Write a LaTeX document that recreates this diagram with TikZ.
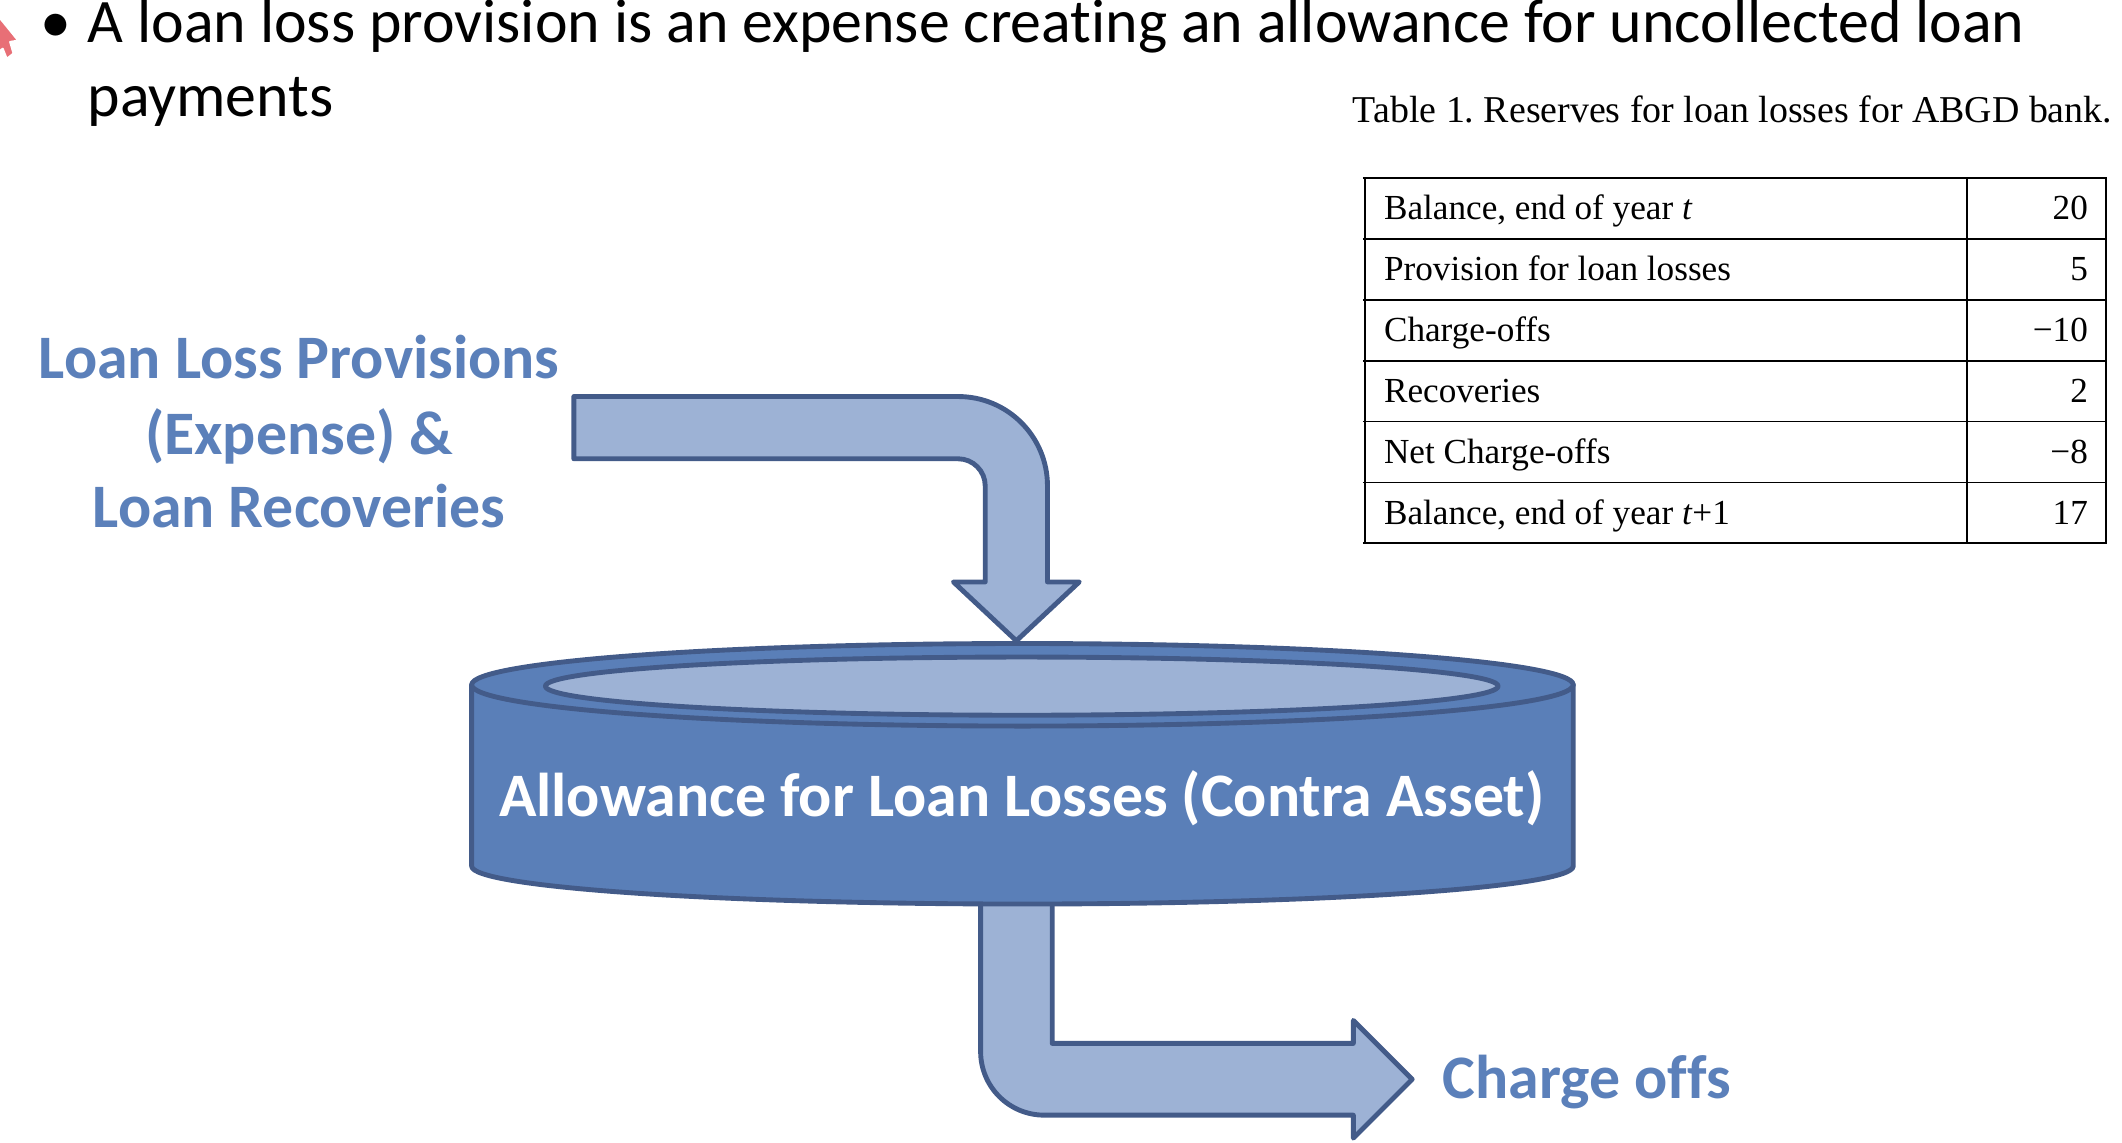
\documentclass[tikz,border=0pt]{standalone}
\usepackage{fontspec}
\setmainfont{Carlito}[Ligatures=NoCommon]
\newfontfamily\tabfont{Liberation Serif}
\frenchspacing

\definecolor{bodyblue}{HTML}{5A7FB8}
\definecolor{paleblue}{HTML}{9DB2D5}
\definecolor{edgeblue}{HTML}{435B89}
\definecolor{labelblue}{HTML}{5B80BA}
\definecolor{cursorred}{HTML}{E86F76}

\begin{document}
\begin{tikzpicture}[x=1pt, y=-1pt,
  blockarrow/.style={fill=paleblue, draw=edgeblue, line width=3.6pt, line join=round},
  canpart/.style={fill=bodyblue, draw=edgeblue, line width=3.6pt, line join=round},
  bigtext/.style={inner sep=0pt, font=\fontsize{45.7}{55}\selectfont},
  flowlabel/.style={bigtext, text=labelblue, font=\fontsize{45.7}{55}\selectfont\bfseries},
  tabtext/.style={inner sep=0pt, font=\tabfont\fontsize{26}{30}\selectfont},
  rule/.style={line width=1.3pt, black}
]
\useasboundingbox (0,0) rectangle (1568,844);

% pointer at the left edge
\filldraw[fill=cursorred, draw=white, line width=1.5pt, line join=round]
  (-6,6) -- (13.5,30) -- (7.5,31) -- (10,39.5) -- (5,43.5) -- (2,36) -- (-6,42) -- cycle;

% bullet point
\node[bigtext, anchor=base west] (dot) at (30,31.5) {•};
\node[bigtext, anchor=base west] (line1) at (64.5,31.5)
  {A loan loss provision is an expense creating an allowance for uncollected loan};
\node[bigtext, anchor=base west] (line2) at (64.5,86.2) {payments};

% inflow label
\node[flowlabel, anchor=base] (in1) at (221,280) {Loan Loss Provisions};
\node[flowlabel, anchor=base] (in2) at (221,335.5) {(Expense) \&};
\node[flowlabel, anchor=base] (in3) at (221,390) {Loan Recoveries};

% outflow label
\node[flowlabel, anchor=base west] (out) at (1066,811.5) {Charge offs};

% outflow arrow (drawn first, its top runs under the can)
\draw[blockarrow] (724.6,640) -- (724.6,777)
  .. controls (724.6,803) and (745.6,824) .. (771.6,824)
  -- (1000,824) -- (1000,841) -- (1043.5,797.5) -- (1000,754) -- (1000,771)
  -- (777.5,771) -- (777.5,640) -- cycle;

% the allowance account as a can
\coordinate (topc) at (755.5,506);
\draw[canpart] (348.5,506) -- (348.5,640)
  .. controls (348.5,655.5) and (530.7,668) .. (755.5,668)
  .. controls (980.3,668) and (1162.5,655.5) .. (1162.5,640)
  -- (1162.5,506) -- cycle;
\draw[canpart] (topc) ellipse [x radius=407pt, y radius=30.5pt];
\draw[canpart, fill=paleblue] (755,507) ellipse [x radius=352pt, y radius=21.5pt];
\node[bigtext, text=white, font=\fontsize{45.7}{55}\selectfont\bfseries, anchor=base] (acct)
  at (755,603.5) {Allowance for Loan Losses (Contra Asset)};

% inflow arrow
\draw[blockarrow] (424,293) -- (708,293)
  .. controls (744.5,293) and (774,322.5) .. (774,359)
  -- (774,430) -- (797.5,430) -- (751,473.5) -- (704.5,430) -- (728,430)
  -- (728,359) .. controls (728,348) and (719,339) .. (708,339)
  -- (424,339) -- cycle;

% reserves table
\node[tabtext, anchor=base west, font=\tabfont\fontsize{28}{32}\selectfont] (cap) at (999.5,90.6)
  {Table 1. Reserves for loan losses for ABGD bank.};
\foreach \yy in {131.5,176.5,221.5,266.5,311.5,356.5,401.5}
  \draw[rule] (1007,\yy) -- (1557,\yy);
\foreach \xx in {1008.8,1453.6,1556.2}
  \draw[rule] (\xx,131.5) -- (\xx,401.5);
\foreach \t/\v [count=\i from 0] in
  {{Balance, end of year \textit{t}}/20,
   {Provision for loan losses}/5,
   {Charge-offs}/−10,
   {Recoveries}/2,
   {Net Charge-offs}/−8,
   {Balance, end of year \textit{t}+1}/17}
{
  \node[tabtext, anchor=base west] (row\i) at (1022.5,162.5+45*\i) {\t};
  \node[tabtext, anchor=base east] (val\i) at (1543,162.5+45*\i) {\v};
}
\end{tikzpicture}
\end{document}
